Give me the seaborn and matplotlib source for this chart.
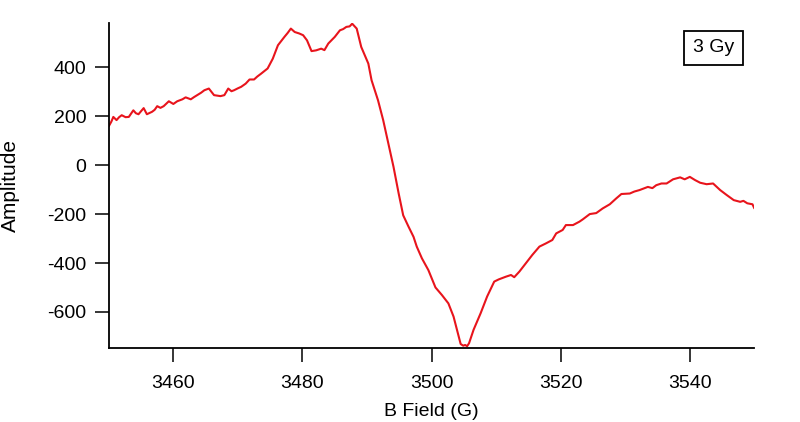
import numpy as np
import pandas as pd
import matplotlib
matplotlib.use("Agg")
import matplotlib.pyplot as plt
import seaborn as sns

# EPR spectrum, values
field = [3450.0, 3450.4, 3450.7, 3451.2, 3451.6, 3452.0, 3452.6, 3453.1, 3453.8, 3454.2,
         3454.6, 3455.4, 3455.9, 3456.7, 3457.1, 3457.5, 3458.0, 3458.5, 3459.3, 3460.0,
         3460.6, 3461.4, 3461.9, 3462.7, 3463.2, 3463.7, 3464.3, 3464.8, 3465.5, 3466.3,
         3467.3, 3467.9, 3468.5, 3469.0, 3469.4, 3470.0, 3470.5, 3471.2, 3471.8, 3472.5,
         3473.0, 3473.6, 3474.6, 3475.4, 3476.2, 3477.2, 3477.7, 3478.2, 3478.8, 3479.5,
         3480.1, 3480.7, 3481.4, 3482.1, 3482.9, 3483.4, 3484.0, 3485.0, 3485.8, 3486.3,
         3486.8, 3487.3, 3487.7, 3488.4, 3489.1, 3490.2, 3490.7, 3491.7, 3492.5, 3493.3,
         3494.1, 3494.9, 3495.6, 3496.4, 3497.2, 3497.7, 3498.5, 3499.5, 3500.6, 3501.6,
         3502.6, 3503.4, 3504.2, 3504.5, 3504.9, 3505.2, 3505.5, 3505.8, 3506.5, 3507.6,
         3508.6, 3509.7, 3510.4, 3511.5, 3512.3, 3512.8, 3513.6, 3514.6, 3515.6, 3516.7,
         3517.7, 3518.7, 3519.3, 3520.3, 3520.8, 3521.9, 3522.9, 3523.4, 3524.5, 3525.5,
         3526.5, 3527.6, 3528.6, 3529.4, 3530.7, 3531.4, 3532.2, 3533.5, 3534.2, 3534.8,
         3535.6, 3536.4, 3537.4, 3538.5, 3539.2, 3540.0, 3540.8, 3541.6, 3542.6, 3543.6,
         3544.7, 3545.7, 3546.8, 3547.8, 3548.3, 3548.9, 3549.7, 3550.0]
amplitude = [159, 178, 197, 184, 196, 204, 196, 197, 224, 212,
             208, 233, 208, 218, 226, 241, 234, 241, 261, 250,
             261, 269, 277, 269, 278, 286, 296, 306, 313, 286,
             282, 286, 313, 302, 306, 314, 320, 333, 350, 350,
             362, 374, 395, 435, 490, 524, 540, 558, 544, 538,
             531, 510, 466, 469, 476, 470, 497, 524, 551, 556,
             565, 567, 578, 558, 483, 415, 347, 265, 184, 89,
             -7, -116, -205, -250, -293, -333, -381, -429, -500, -531,
             -565, -619, -701, -731, -738, -735, -740, -728, -673, -605,
             -537, -476, -467, -456, -449, -458, -435, -401, -367, -333,
             -320, -306, -279, -265, -245, -245, -231, -222, -200, -196,
             -177, -160, -136, -118, -116, -108, -102, -89, -94, -82,
             -75, -75, -58, -50, -58, -48, -61, -72, -78, -75,
             -102, -122, -143, -150, -146, -156, -160, -177]
dose_label = "3 Gy"

df = pd.DataFrame({"B Field (G)": field, "Amplitude": amplitude})

sns.set_theme(style="ticks")
plt.rcParams["font.family"] = ["Liberation Sans", "DejaVu Sans"]
plt.rcParams["axes.unicode_minus"] = False

fig = plt.figure(figsize=(8, 4.22), dpi=100)
ax = fig.add_axes([0.136, 0.175, 0.807, 0.77])
sns.lineplot(data=df, x="B Field (G)", y="Amplitude", color="#e8141c", linewidth=1.5,
             estimator=None, sort=False, ax=ax)

ax.set_xlim(3450, 3550)
ax.set_ylim(-748, 580)
ax.set_xticks([3460, 3480, 3500, 3520, 3540])
ax.set_yticks([-600, -400, -200, 0, 200, 400])
ax.set_xlabel("B Field (G)", fontsize=14, color="black", labelpad=8)
ax.set_ylabel("Amplitude", fontsize=15, color="black", labelpad=20)
ax.tick_params(axis="both", direction="out", length=10, width=1.1, colors="black",
               labelsize=14)
ax.tick_params(axis="x", pad=9)
ax.tick_params(axis="y", pad=6)

sns.despine(ax=ax)
for side in ["left", "bottom"]:
    ax.spines[side].set_linewidth(1.3)
    ax.spines[side].set_color("black")

ax.text(0.969, 0.95, dose_label, transform=ax.transAxes, ha="right", va="top",
        fontsize=14, color="black",
        bbox=dict(boxstyle="square,pad=0.45", facecolor="white", edgecolor="black", linewidth=1.3))

fig.savefig("out.png", dpi=100)
